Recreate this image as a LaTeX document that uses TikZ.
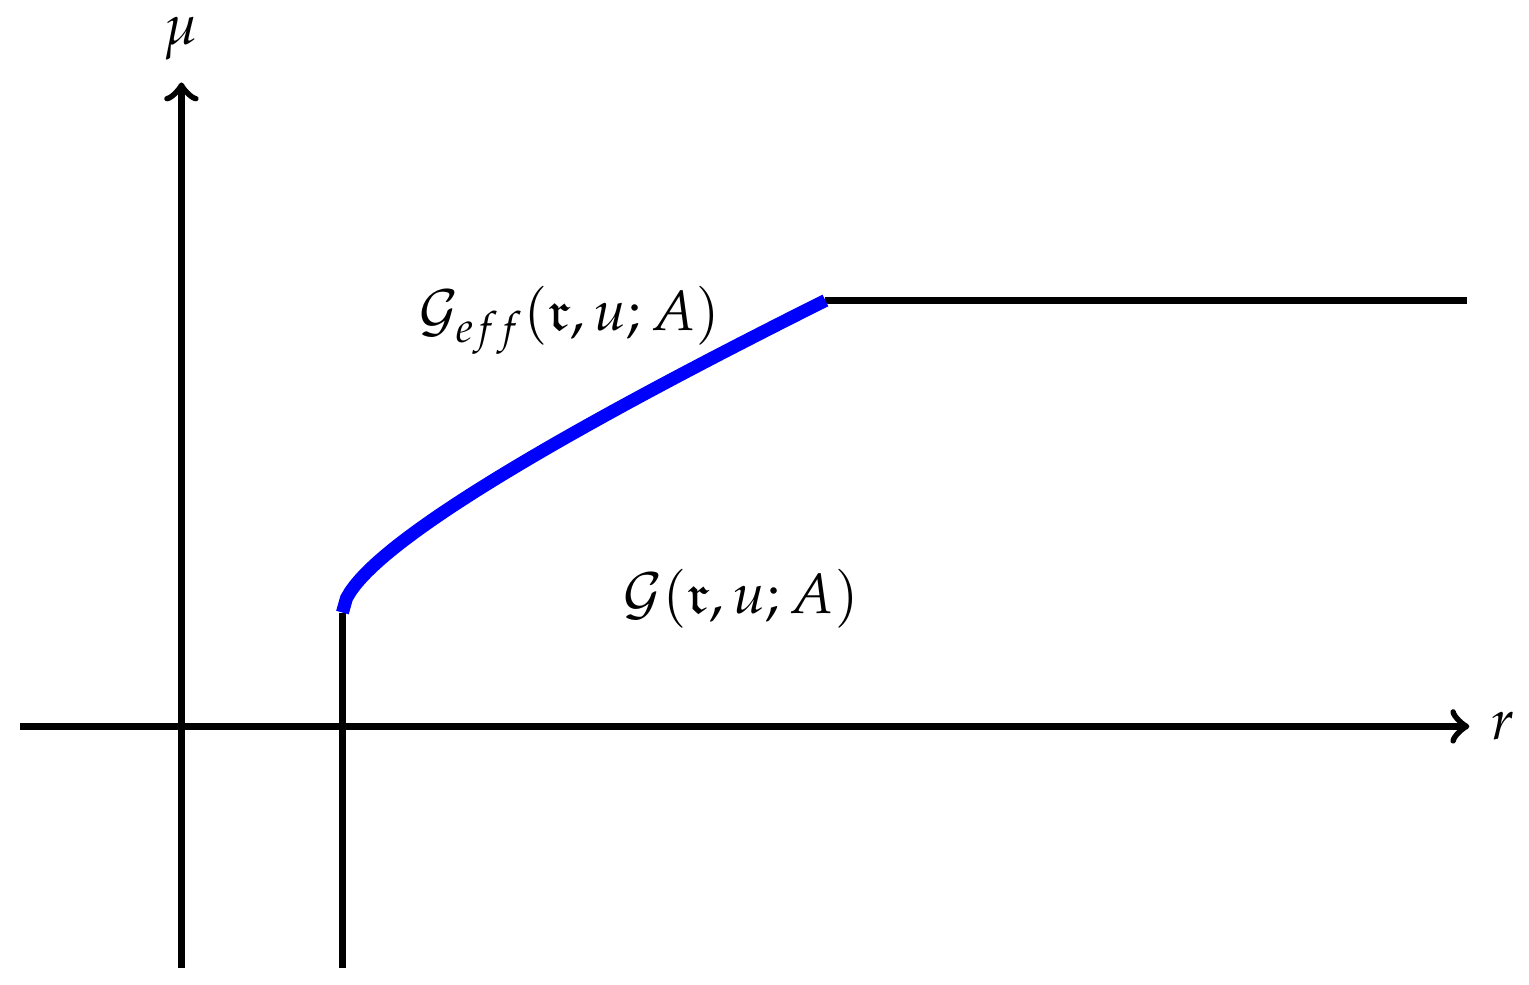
\documentclass[tikz,border=0pt]{standalone}
\usepackage{amsmath,amsfonts}
\usepackage{mathpazo}
\begin{document}
\begin{tikzpicture}[x=1cm,y=1cm,
  axis/.style={very thick,->},
  edge/.style={very thick},
  curve/.style={line width=2.3pt,blue}]
\useasboundingbox (-1.127,-1.606) rectangle (8.370,4.512);
\coordinate (xl) at (-1,0);
\coordinate (xr) at (8,0);
\coordinate (yb) at (0,-1.5);
\coordinate (yt) at (0,4);
\coordinate (vb) at (1,-1.5);
\coordinate (vt) at (1,0.707);
\coordinate (ce) at (4,2.646);
\coordinate (he) at (7.985,2.646);
\draw[axis] (xl) -- (xr) node[right] (rl) {$r$};
\draw[axis] (yb) -- (yt) node[above] (ml) {$\mu$};
\draw[edge] (vb) -- (vt);
\draw[edge] (ce) -- (he);
\draw[curve] plot[domain=1:4,samples=120] (\x,{0.707+0.507*sqrt(\x-1)+0.3535*(\x-1)});
\node (geff) at (2.41,2.52) {$\mathcal{G}_{eff}(\mathfrak{r},u;A)$};
\node (g) at (3.475,0.795) {$\mathcal{G}(\mathfrak{r},u;A)$};
\end{tikzpicture}
\end{document}
